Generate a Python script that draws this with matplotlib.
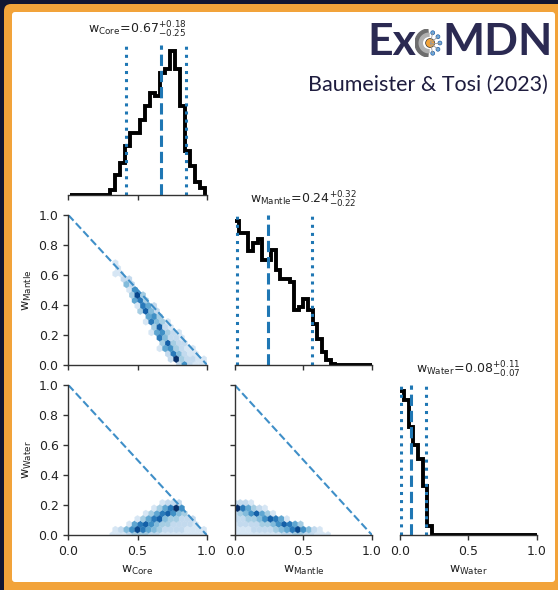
import numpy as np
import matplotlib
matplotlib.use("Agg")
import matplotlib.pyplot as plt
from matplotlib.patches import FancyBboxPatch, Wedge, Circle

# --- 1D marginals (bin heights relative to the tallest bin) ---
core_edges = np.linspace(0.012, 0.988, 28)
core_hist = [0, 0, 0, 0, 0, 0, 0, 0, 0.035, 0.14, 0.22, 0.34, 0.43, 0.43,
             0.52, 0.62, 0.71, 0.69, 0.85, 0.88, 1.0, 0.88, 0.62, 0.31,
             0.20, 0.09, 0.05]
mantle_edges = np.linspace(0, 1, 31)
mantle_hist = [1.0, 0.92, 0.92, 0.79, 0.85, 0.88, 0.73, 0.73, 0.80, 0.66,
               0.60, 0.60, 0.58, 0.38, 0.40, 0.46, 0.38, 0.28, 0.18, 0.09,
               0.03, 0.005, 0, 0, 0, 0, 0, 0, 0, 0]
water_edges = np.linspace(0, 1, 31)
water_hist = [1.0, 0.94, 0.75, 0.63, 0.53, 0.34, 0.06] + [0] * 23

# median and 1-sigma errors: core, mantle, water
names = ["Core", "Mantle", "Water"]
medians = [0.67, 0.24, 0.08]
err_lo = [0.25, 0.22, 0.07]
err_hi = [0.18, 0.32, 0.11]

# --- joint density on a (mantle, water) grid; core = 1 - mantle - water ---
mantle_centers = [0.000, 0.036, 0.071, 0.107, 0.143, 0.179, 0.214, 0.250, 0.286, 0.321,
                  0.357, 0.393, 0.429, 0.464, 0.500, 0.536, 0.571, 0.607, 0.643, 0.679]
water_centers = [0.214, 0.179, 0.143, 0.107, 0.071, 0.036, 0.000]
joint_counts = [
    [2, 2, 2, 1, 0, 0, 0, 0, 0, 0, 0, 0, 0, 0, 0, 0, 0, 0, 0, 0],
    [6, 10, 7, 5, 3, 2, 1, 0, 0, 0, 0, 0, 0, 0, 0, 0, 0, 0, 0, 0],
    [2, 3, 4, 6, 8, 7, 5, 3, 1, 0, 0, 0, 0, 0, 0, 0, 0, 0, 0, 0],
    [2, 2, 2, 3, 3, 4, 6, 8, 7, 5, 3, 1, 0, 0, 0, 0, 0, 0, 0, 0],
    [1, 2, 2, 2, 2, 2, 3, 3, 4, 6, 8, 7, 5, 3, 1, 0, 0, 0, 0, 0],
    [1, 1, 1, 1, 2, 2, 2, 2, 3, 3, 4, 5, 7, 9, 6, 4, 2, 1, 0, 0],
    [1, 1, 1, 1, 1, 1, 1, 1, 1, 1, 2, 2, 3, 3, 3, 2, 2, 1, 1, 1],
]

W, H = 558, 590
BLUE = "#1f77b4"


def px(x0, y0, x1, y1):
    # pixel box (origin top-left) -> figure-fraction rect
    return [x0 / W, 1 - y1 / H, (x1 - x0) / W, (y1 - y0) / H]


fig = plt.figure(figsize=(W / 100, H / 100), dpi=100)
fig.patch.set_facecolor("#121632")

# orange frame + white card (in inches)
frame = FancyBboxPatch((0.04, -0.08), 5.62, 5.94, boxstyle="round,pad=0,rounding_size=0.07",
                       transform=fig.dpi_scale_trans, facecolor="#f2a33a", edgecolor="none", zorder=-3)
card = FancyBboxPatch((0.12, 0.08), 5.43, 5.70, boxstyle="round,pad=0,rounding_size=0.03",
                      transform=fig.dpi_scale_trans, facecolor="white", edgecolor="none", zorder=-2)
fig.add_artist(frame)
fig.add_artist(card)

cols = [(68.3, 206.7), (234.7, 372.0), (399.7, 537.0)]
rows = [(45, 195), (215, 364.5), (385, 535)]


def style(ax):
    for s in ["top", "right"]:
        ax.spines[s].set_visible(False)
    for s in ["left", "bottom"]:
        ax.spines[s].set_color("#333333")
        ax.spines[s].set_linewidth(1.0)
    ax.tick_params(colors="#333333", labelcolor="#222222", labelsize=9, width=1.0, length=3.5)
    ax.set_facecolor("none")


# 1D panels
hists = [(core_edges, core_hist, 0), (mantle_edges, mantle_hist, None), (water_edges, water_hist, None)]
for i, (edges, vals, base) in enumerate(hists):
    x0, x1 = cols[i]
    y0, y1 = rows[i]
    ax = fig.add_axes(px(x0, y0, x1, y1))
    style(ax)
    ax.spines["left"].set_visible(False)
    ax.stairs(vals, edges, baseline=base, color="black", lw=2.8)
    m, lo, hi = medians[i], err_lo[i], err_hi[i]
    ax.axvline(m, color=BLUE, ls="--", lw=2.2)
    ax.axvline(m - lo, color=BLUE, ls=":", lw=2.2)
    ax.axvline(m + hi, color=BLUE, ls=":", lw=2.2)
    ax.set_xlim(0, 1)
    ax.set_ylim(0, 1.045)
    ax.set_yticks([])
    ax.set_xticks([0, 0.5, 1.0])
    title = r"$\mathrm{w_{%s}}\!=\!%.2f^{+%.2f}_{-%.2f}$" % (names[i], m, hi, lo)
    ax.set_title(title, fontsize=9, pad=8, color="#222222")
    if i == 2:
        ax.set_xticklabels(["0.0", "0.5", "1.0"])
        ax.set_xlabel(r"$\mathrm{w_{Water}}$", fontsize=9, color="#222222")
        ax.xaxis.set_label_coords(0.5, -0.19)
    else:
        ax.set_xticklabels([])

# 2D panels
mm, ww = np.meshgrid(mantle_centers, water_centers)
wt = np.array(joint_counts, float)
keep = wt > 0
m_pts, w_pts, c_pts = mm[keep], ww[keep], wt[keep]
core_pts = 1 - m_pts - w_pts

pairs = [
    (1, 0, core_pts, m_pts),   # row, col, x, y
    (2, 0, core_pts, w_pts),
    (2, 1, m_pts, w_pts),
]
for r, c, xs, ys in pairs:
    x0, x1 = cols[c]
    y0, y1 = rows[r]
    ax = fig.add_axes(px(x0, y0, x1, y1))
    style(ax)
    ax.hexbin(xs, ys, C=c_pts, gridsize=25, extent=(0, 1, 0, 1), reduce_C_function=np.max,
              cmap="Blues", vmin=-0.8, vmax=10, linewidths=0.2, edgecolors="face")
    ax.plot([0, 1], [1, 0], ls="--", lw=1.5, color="#3f8fc8")
    ax.set_xlim(0, 1)
    ax.set_ylim(0, 1)
    ax.set_xticks([0, 0.5, 1.0])
    ax.set_yticks([0, 0.2, 0.4, 0.6, 0.8, 1.0])
    if r == 2:
        ax.set_xticklabels(["0.0", "0.5", "1.0"])
        ax.set_xlabel(r"$\mathrm{w_{%s}}$" % names[c], fontsize=9, color="#222222")
        ax.xaxis.set_label_coords(0.5, -0.19)
    else:
        ax.set_xticklabels([])
    if c == 0:
        ax.set_ylabel(r"$\mathrm{w_{%s}}$" % names[r], fontsize=9, color="#222222")
        ax.yaxis.set_label_coords(-0.25, 0.5)
    else:
        ax.set_yticklabels([])

# logo
navy = "#2b2a52"
fig.text(416 / W, 1 - 55 / H, "Ex", fontsize=32, fontweight="bold", family="Lato",
         color=navy, ha="right", va="baseline")
fig.text(442 / W, 1 - 55 / H, "MDN", fontsize=32, fontweight="bold", family="Lato",
         color=navy, ha="left", va="baseline")
fig.text(548 / W, 1 - 91 / H, "Baumeister & Tosi (2023)", fontsize=15.5, family="Lato",
         color="#1f1d3f", ha="right", va="baseline")

icon = fig.add_axes(px(415, 29, 443, 57))
icon.set_xlim(-1, 1)
icon.set_ylim(-1, 1)
icon.set_aspect("equal")
icon.axis("off")
icon.add_patch(Wedge((0, 0), 1.0, 95, 265, width=0.3, color="#6e6e6e"))
icon.add_patch(Wedge((0, 0), 0.7, 90, 270, width=0.22, color="#b0b0b0"))
for ang in [-70, -35, 0, 35, 70]:
    a = np.deg2rad(ang)
    icon.plot([0.1, 0.78 * np.cos(a)], [0, 0.78 * np.sin(a)], color="#9a9a9a", lw=0.6)
    icon.add_patch(Circle((0.78 * np.cos(a), 0.78 * np.sin(a)), 0.14,
                          facecolor="#6aaee8", edgecolor="#2a5d9a", lw=0.5))
icon.add_patch(Circle((0.08, 0), 0.32, facecolor="#f2a33a", edgecolor="#333333", lw=0.5))

fig.savefig("out.png", dpi=100, facecolor=fig.get_facecolor())
